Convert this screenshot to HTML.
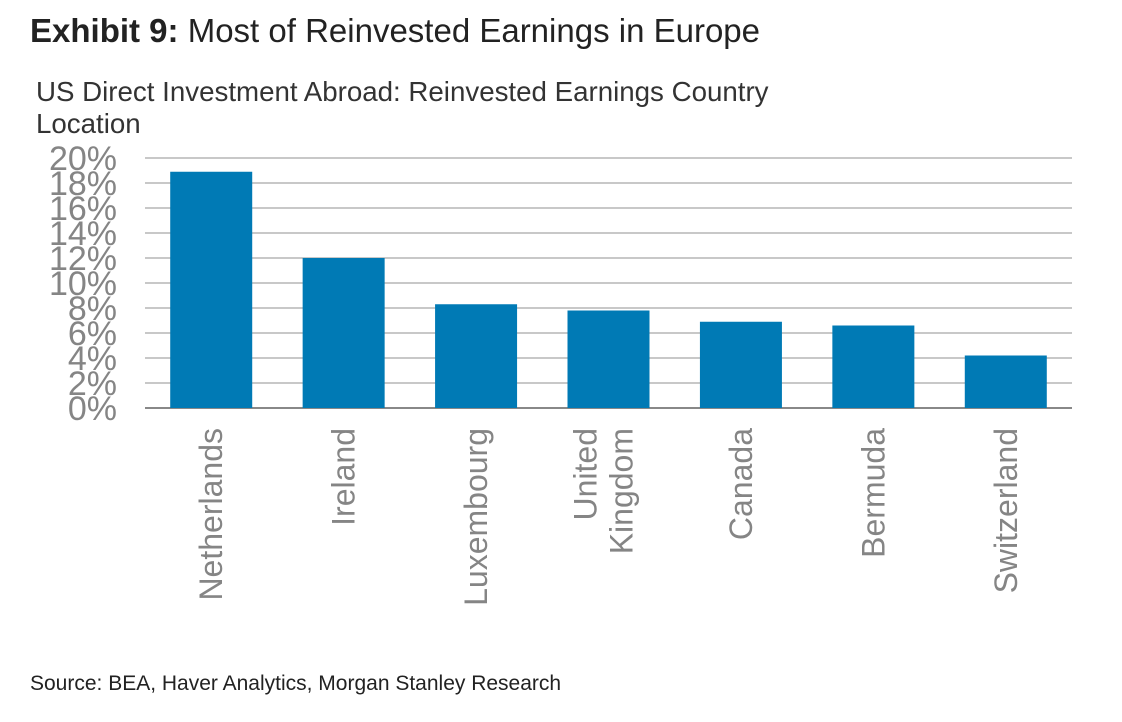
<!DOCTYPE html>
<html><head><meta charset="utf-8"><style>
body{margin:0;background:#fff;width:1122px;height:717px;overflow:hidden;font-family:"Liberation Sans",sans-serif;}
</style></head><body>
<svg id="chart" width="1122" height="717" xmlns="http://www.w3.org/2000/svg">
<text x="30" y="42" font-size="33" fill="#222"><tspan font-weight="bold">Exhibit 9:</tspan>  Most of Reinvested Earnings in Europe</text>
<text x="36" y="101" font-size="27.7" fill="#333">US Direct Investment Abroad: Reinvested Earnings Country</text>
<text x="36" y="133" font-size="27.7" fill="#333">Location</text>
<text x="30" y="690" font-size="21" fill="#222">Source: BEA, Haver Analytics, Morgan Stanley Research</text>
<g id="grid"></g><g id="bars"></g><g id="labels"></g>
</svg>
<script>
const categories=["Netherlands","Ireland","Luxembourg","United Kingdom","Canada","Bermuda","Switzerland"];
const values=[18.9,12.0,8.3,7.8,6.9,6.6,4.2];
const yTicks=[0,2,4,6,8,10,12,14,16,18,20];
const NS="http://www.w3.org/2000/svg";
const x0=145,x1=1072,y0=408,y1=158,yMax=20;
const y=v=>y0-(v/yMax)*(y0-y1);
const band=(x1-x0)/categories.length;
const xb=i=>x0+i*band;
function mk(t,a,p){const e=document.createElementNS(NS,t);for(const k in a)e.setAttribute(k,a[k]);p.appendChild(e);return e;}
const grid=document.getElementById('grid'),bars=document.getElementById('bars'),labels=document.getElementById('labels');
yTicks.forEach(t=>{
 const l=mk('line',{x1:x0,x2:x1,y1:y(t),y2:y(t),stroke:t===0?'#888':'#c8c8c8','stroke-width':2},grid);
 
 
 const tx=mk('text',{x:117,y:y(t)+12,'font-size':34,fill:'#858585','text-anchor':'end'},grid);
 tx.textContent=t+'%';
 
 
});
categories.forEach((c,i)=>{
 const bw=82,bx=xb(i)+(band-bw)/2;
 const r=mk('rect',{x:bx,y:y(values[i]),width:bw,height:y0-y(values[i]),fill:'#007ab5'},bars);
 
 
 const cx=xb(i)+band/2;
 const g=mk('g',{transform:`translate(${cx},428) rotate(-90)`},labels);
 
 
 const parts=c==="United Kingdom"?["United","Kingdom"]:[c];
 parts.forEach((p,j)=>{
  const off=parts.length===1?11:(j===0?-12:24);
  const t=mk('text',{x:0,y:off,'font-size':32,fill:'#858585','text-anchor':'end'},g);
  t.textContent=p;
 });
});
</script>
</body></html>
